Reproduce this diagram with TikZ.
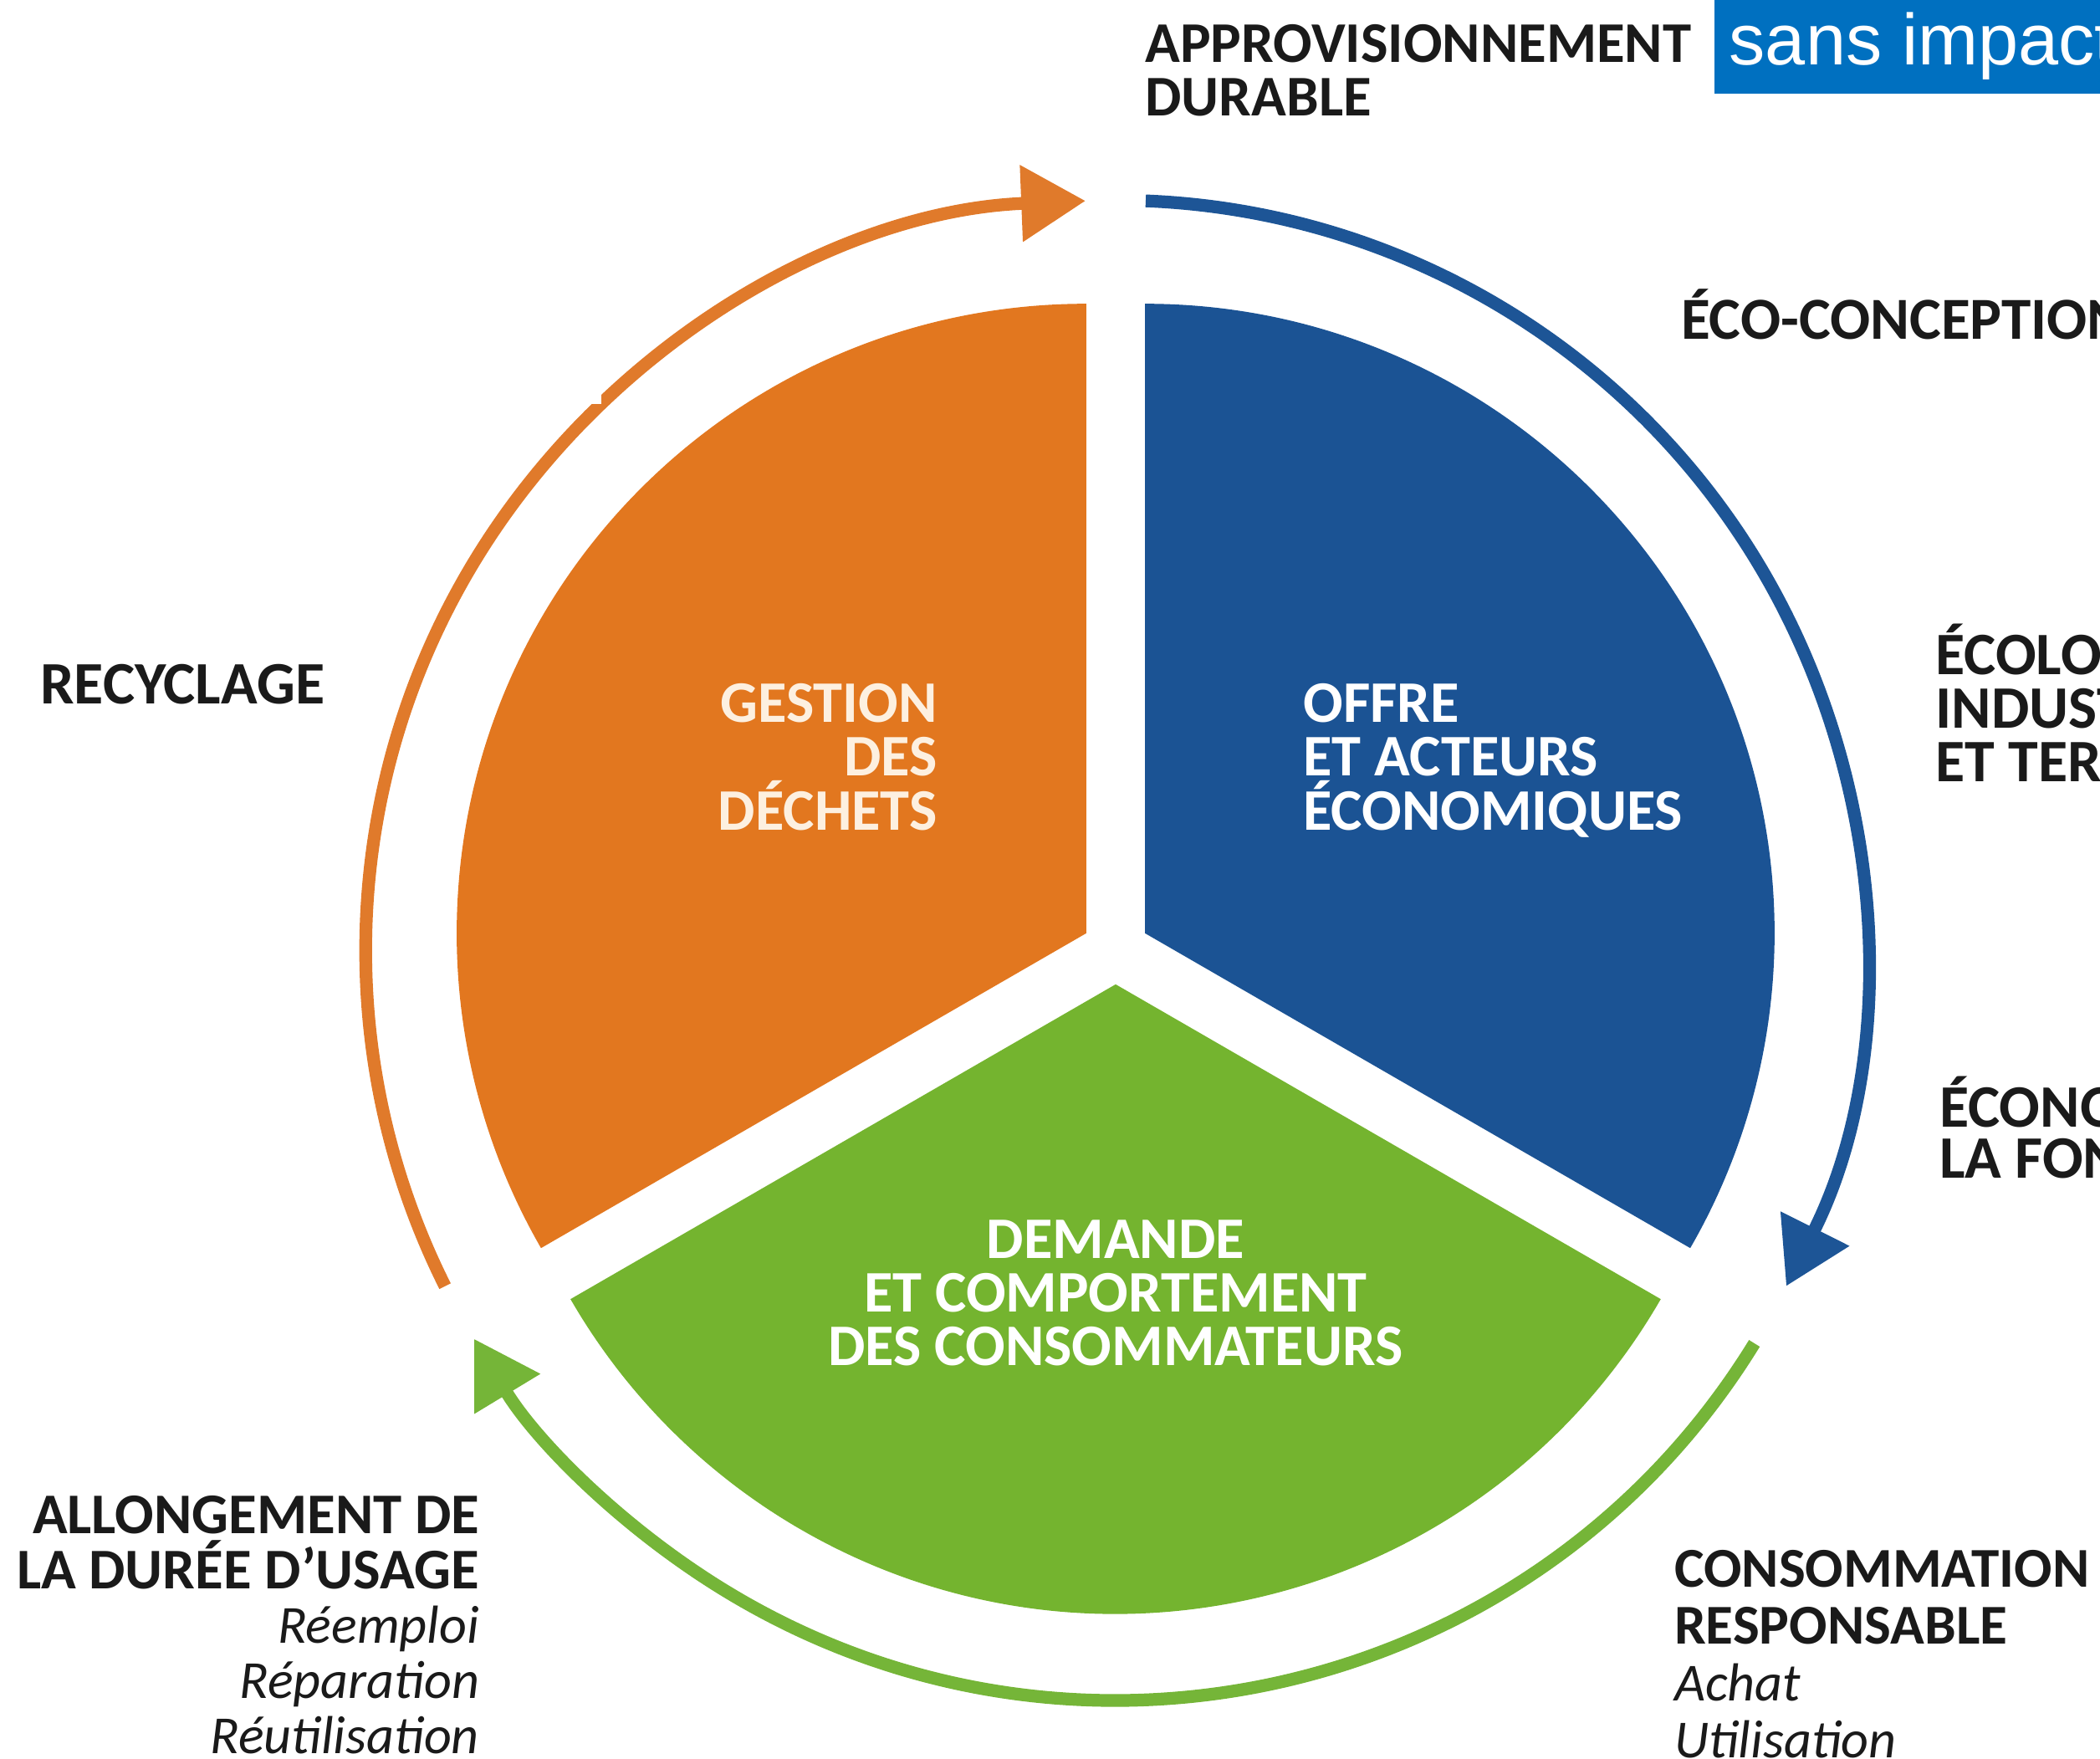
\documentclass[tikz,border=0pt]{standalone}
\usepackage{fontspec}
\setmainfont{Carlito}
\newfontfamily\arialf{Liberation Sans}
\usetikzlibrary{arrows.meta}
\definecolor{corange}{HTML}{E2771F}
\definecolor{cblue}{HTML}{1B5394}
\definecolor{cgreen}{HTML}{74B42F}
\definecolor{aorange}{HTML}{E07A2B}
\definecolor{ablue}{HTML}{1D5596}
\definecolor{agreen}{HTML}{75B538}
\definecolor{boxblue}{HTML}{0070C0}
\definecolor{labtext}{HTML}{1A1A1A}
\definecolor{cream}{HTML}{FDF0E0}
\begin{document}
\begin{tikzpicture}[x=1pt,y=1pt,
  lab/.style={inner sep=0pt, text=labtext, font=\fontsize{43}{43}\selectfont\bfseries},
  labit/.style={inner sep=0pt, text=labtext, font=\fontsize{40}{40}\selectfont\itshape},
  sect/.style={inner sep=0pt, font=\fontsize{44}{44}\selectfont\bfseries},
  cyc/.style={line width=9.5pt, -{Triangle[length=48pt,width=55pt]}}
]
\useasboundingbox (0,0) rectangle (1568,1313);
\coordinate (C) at (833,603.5);
\coordinate (Oa) at (811,616.2);
\coordinate (Ba) at (855,616.2);
\coordinate (Ga) at (833,578.1);
% sectors
\fill[corange] (Oa) -- ++(90:470) arc[start angle=90,end angle=210,radius=470] -- cycle;
\fill[cblue] (Ba) -- ++(90:470) arc[start angle=90,end angle=-30,radius=470] -- cycle;
\fill[cgreen] (Ga) -- ++(-30:470) arc[start angle=-30,end angle=-150,radius=470] -- cycle;
% cycle arrows
\coordinate (os) at ([shift={(206.6:560)}]C);
\coordinate (bs) at ([shift={(87.7:560)}]C);
\coordinate (gs) at ([shift={(-31.6:560)}]C);
\draw[cyc, aorange] (os) arc[start angle=206.6,end angle=92.3,radius=560];
\draw[cyc, ablue] (bs) arc[start angle=87.7,end angle=-26.6,radius=560];
\draw[cyc, agreen] (gs) arc[start angle=-31.6,end angle=-148.8,radius=560];
\fill[white] (425,1011.4) rectangle (449,1038);
% header
\node[lab, anchor=base west] (ap1) at (855,1266.5) {APPROVISIONNEMENT};
\node[lab, anchor=base west] (ap2) at (855,1226.5) {DURABLE};
\fill[boxblue] (1280,1243) rectangle (1568,1313);
\node[anchor=base west, inner sep=0pt, text=white, font=\arialf\fontsize{54}{54}\selectfont] (si) at (1291,1264.6) {sans impact};
% right labels
\node[lab, anchor=base west, font=\fontsize{44.5}{44.5}\selectfont\bfseries] (eco) at (1255,1059.5) {ÉCO-CONCEPTION};
\node[lab, anchor=base west, font=\fontsize{45}{45}\selectfont\bfseries] (eit1) at (1445,809.5) {ÉCOLOGIE};
\node[lab, anchor=base west, font=\fontsize{45}{45}\selectfont\bfseries] (eit2) at (1445,769.5) {INDUSTRIELLE};
\node[lab, anchor=base west, font=\fontsize{45}{45}\selectfont\bfseries] (eit3) at (1445,729.5) {ET TERRITORIALE};
\node[lab, anchor=base west, font=\fontsize{45}{45}\selectfont\bfseries] (ef1) at (1448,471.5) {ÉCONOMIE DE};
\node[lab, anchor=base west, font=\fontsize{45}{45}\selectfont\bfseries] (ef2) at (1448,433.5) {LA FONCTIONNALITÉ};
% left labels
\node[lab, anchor=base west, font=\fontsize{45}{45}\selectfont\bfseries] (rec) at (30,787.5) {RECYCLAGE};
\node[lab, anchor=base east] (al1) at (358,168) {ALLONGEMENT DE};
\node[lab, anchor=base east] (al2) at (358,127) {LA DURÉE D’USAGE};
\node[labit, anchor=base east] (al3) at (358,86) {Réemploi};
\node[labit, anchor=base east] (al4) at (358,45) {Réparation};
\node[labit, anchor=base east] (al5) at (358,4) {Réutilisation};
% bottom right labels
\node[lab, anchor=base west, font=\fontsize{42}{42}\selectfont\bfseries] (co1) at (1250,128) {CONSOMMATION};
\node[lab, anchor=base west, font=\fontsize{42}{42}\selectfont\bfseries] (co2) at (1250,85.5) {RESPONSABLE};
\node[labit, anchor=base west] (co3) at (1250,43) {Achat};
\node[labit, anchor=base west] (co4) at (1250,1) {Utilisation};
% sector texts
\node[sect, text=cream, anchor=base east] (g1) at (700,773.5) {GESTION};
\node[sect, text=cream, anchor=base east] (g2) at (700,733.5) {DES};
\node[sect, text=cream, anchor=base east] (g3) at (700,693.5) {DÉCHETS};
\node[sect, text=white, anchor=base west] (b1) at (973,773.5) {OFFRE};
\node[sect, text=white, anchor=base west] (b2) at (973,733.5) {ET ACTEURS};
\node[sect, text=white, anchor=base west] (b3) at (973,693.5) {ÉCONOMIQUES};
\node[sect, text=white, anchor=base] (d1) at (833,373.5) {DEMANDE};
\node[sect, text=white, anchor=base] (d2) at (833,333.5) {ET COMPORTEMENT};
\node[sect, text=white, anchor=base] (d3) at (833,293.5) {DES CONSOMMATEURS};
\end{tikzpicture}
\end{document}
